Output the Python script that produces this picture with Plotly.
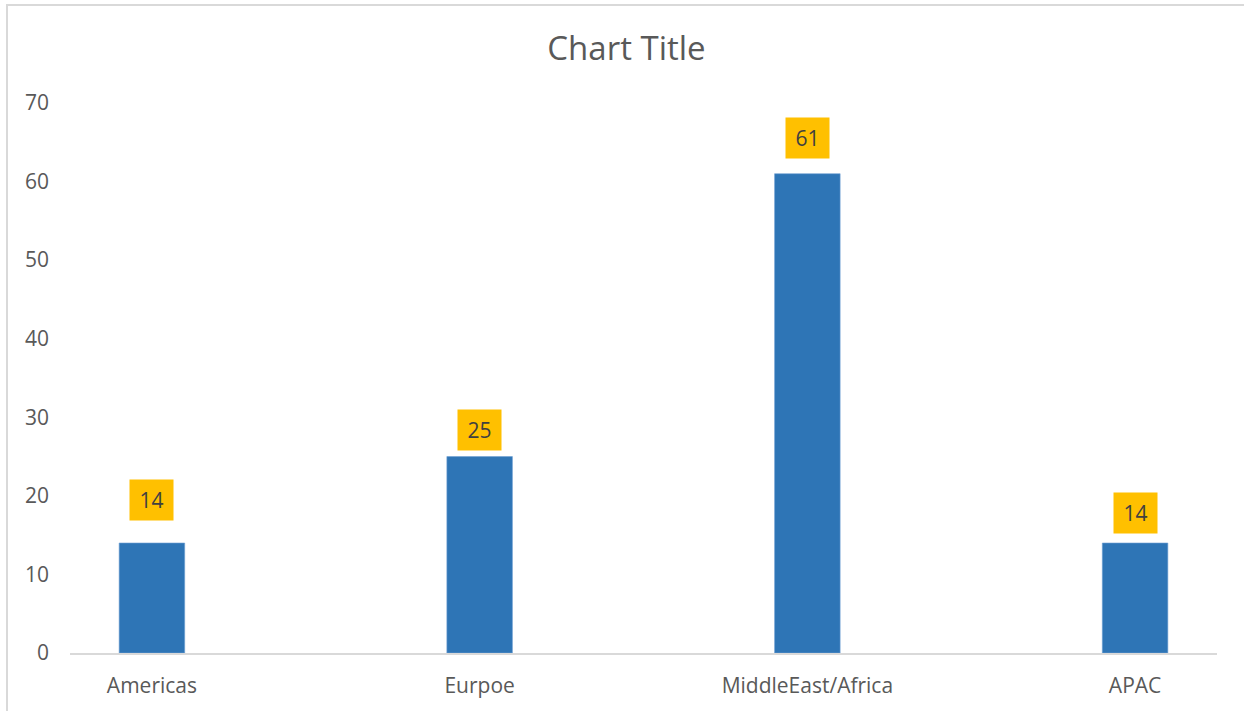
import plotly.graph_objects as go

categories = ["Americas", "Eurpoe", "MiddleEast/Africa", "APAC"]
values = [14, 25, 61, 14]
y_ticks = [0, 10, 20, 30, 40, 50, 60, 70]
label_offsets_px = [43, 27, 36, 30]

FONT = "Open Sans"
TEXT_GRAY = "#595959"

fig = go.Figure()
fig.add_trace(go.Bar(
    x=categories,
    y=values,
    width=0.2,
    marker=dict(color="#2E75B6", line=dict(color="#6FA0D3", width=0.6)),
    hoverinfo="x+y",
))

for cat, val, off in zip(categories, values, label_offsets_px):
    fig.add_annotation(
        x=cat, y=val, text=str(val), showarrow=False,
        yanchor="middle", xanchor="center", yshift=off,
        width=41, height=38, bgcolor="#FFC000",
        font=dict(family=FONT, size=21, color="#404040"),
    )

# chart border (light gray frame like Excel chart area)
fig.add_shape(
    type="rect", xref="paper", yref="paper",
    x0=(7 - 70) / 1147, x1=(1250 - 70) / 1147,
    y0=(653 - 720) / 550, y1=(653 - 5) / 550,
    line=dict(color="#D9D9D9", width=2), fillcolor="rgba(0,0,0,0)",
    layer="below",
)

fig.update_layout(
    width=1244, height=711,
    margin=dict(l=70, r=27, t=103, b=58),
    paper_bgcolor="white", plot_bgcolor="white",
    showlegend=False,
    title=dict(
        text="Chart Title", x=626.5 / 1244, xanchor="center",
        y=1 - 48 / 711, yanchor="middle",
        font=dict(family=FONT, size=33, color=TEXT_GRAY),
    ),
    font=dict(family=FONT, color=TEXT_GRAY),
    xaxis=dict(
        range=[-0.25, 3.25],
        showgrid=False, zeroline=False,
        showline=True, linecolor="#D9D9D9", linewidth=2,
        ticks="", ticklabelstandoff=13,
        tickfont=dict(family=FONT, size=21, color=TEXT_GRAY),
        fixedrange=True,
    ),
    yaxis=dict(
        range=[0, 70],
        tickvals=y_ticks,
        showgrid=False, zeroline=False, showline=False,
        ticks="", ticklabelstandoff=20,
        tickfont=dict(family=FONT, size=21, color=TEXT_GRAY),
        fixedrange=True,
    ),
)

fig.write_html(
    "out.html",
    config={"displayModeBar": False},
    post_script="document.body.style.margin='0';document.body.style.overflow='hidden';",
)
